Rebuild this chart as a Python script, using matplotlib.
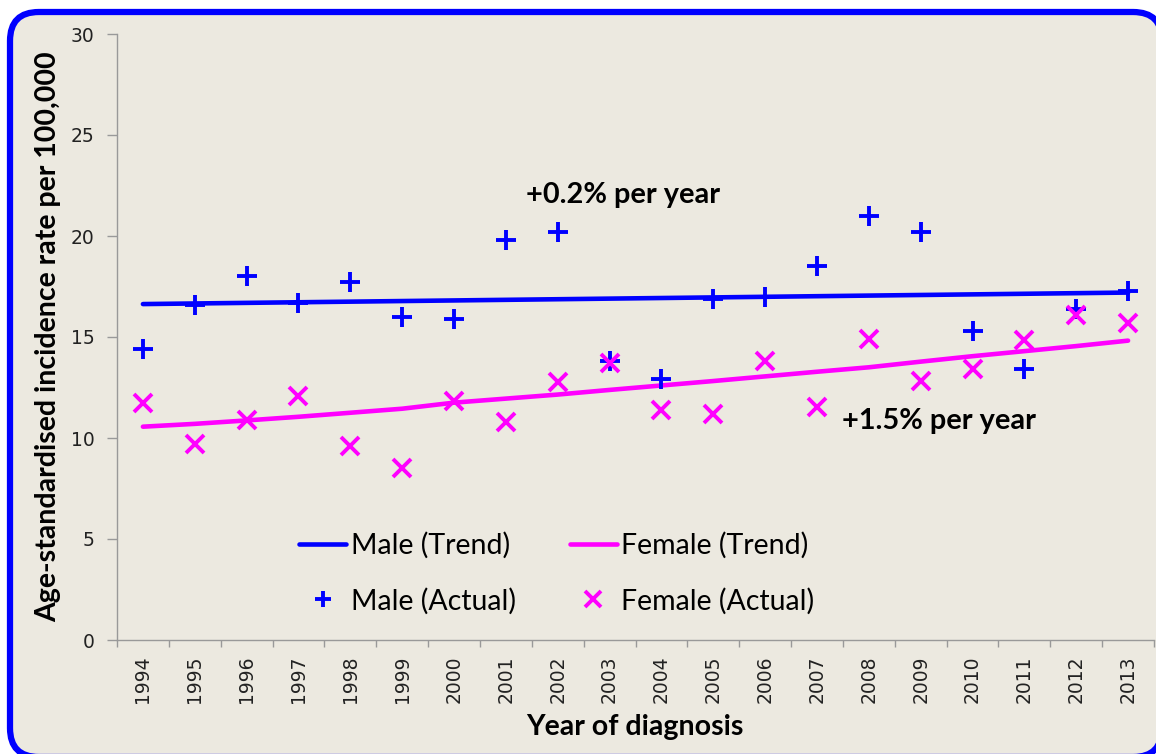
import matplotlib
matplotlib.use("Agg")
import matplotlib.pyplot as plt
from matplotlib.patches import FancyBboxPatch
from matplotlib.ticker import FixedLocator

years = [1994, 1995, 1996, 1997, 1998, 1999, 2000, 2001, 2002, 2003,
         2004, 2005, 2006, 2007, 2008, 2009, 2010, 2011, 2012, 2013]
male_actual = [14.4, 16.6, 18.0, 16.7, 17.7, 16.0, 15.9, 19.8, 20.2, 13.8,
               12.9, 16.9, 17.0, 18.5, 21.0, 20.2, 15.3, 13.4, 16.4, 17.3]
female_actual = [11.75, 9.7, 10.9, 12.1, 9.6, 8.5, 11.85, 10.8, 12.75, 13.7,
                 11.4, 11.2, 13.8, 11.55, 14.9, 12.8, 13.4, 14.85, 16.1, 15.7]
male_trend = [16.63, 16.66, 16.69, 16.72, 16.75, 16.78, 16.81, 16.84, 16.87, 16.90,
              16.93, 16.96, 16.99, 17.02, 17.05, 17.08, 17.11, 17.14, 17.17, 17.20]
female_trend = [10.56, 10.70, 10.87, 11.05, 11.25, 11.45, 11.75, 11.95, 12.15, 12.38,
                12.60, 12.82, 13.05, 13.28, 13.50, 13.78, 14.05, 14.30, 14.55, 14.82]
year_labels = [str(y) for y in years]
y_ticks = [0, 5, 10, 15, 20, 25, 30]

BLUE = "#0000FF"
MAGENTA = "#FF00FF"
BG = "#ECE9E0"

fig = plt.figure(figsize=(11.56, 7.54), dpi=100)
fig.patch.set_facecolor("white")

# rounded frame
W, H = 1156, 754
box = FancyBboxPatch((10 / W, (H - 757) / H), (1162 - 10) / W, (757 - 12) / H,
                     boxstyle="round,pad=0,rounding_size=0.025",
                     transform=fig.transFigure, facecolor=BG, edgecolor=BLUE,
                     linewidth=4.5, zorder=-10, mutation_aspect=W / H)
fig.patches.append(box)

ax = fig.add_axes([117 / W, 1 - 640 / H, (1154 - 117) / W, (640 - 34) / H])
ax.set_zorder(5)
ax.patch.set_visible(False)

l1, = ax.plot(years, male_trend, color=BLUE, lw=3.3, solid_capstyle="round", zorder=2)
l2, = ax.plot(years, female_trend, color=MAGENTA, lw=3.3, solid_capstyle="round", zorder=2)
m1, = ax.plot(years, male_actual, ls="none", marker="+", ms=14, mew=2.8, color=BLUE, zorder=3)
m2, = ax.plot(years, female_actual, ls="none", marker="x", ms=13, mew=2.8, color=MAGENTA, zorder=4)

ax.set_xlim(1993.5, 2013.5)
ax.set_ylim(0, 30)
ax.set_yticks(y_ticks)
ax.set_xticks(years)
ax.set_xticklabels(year_labels, rotation=90)
ax.xaxis.set_minor_locator(FixedLocator([y - 0.5 for y in years] + [2013.5]))
ax.tick_params(axis="x", which="major", length=0, pad=11, labelsize=13.5, labelcolor="#222222")
ax.tick_params(axis="x", which="minor", length=5, width=1, color="#999999")
ax.tick_params(axis="y", length=7, width=1, color="#999999", pad=9, labelsize=13.5, labelcolor="#222222")
for s in ["top", "right"]:
    ax.spines[s].set_visible(False)
for s in ["left", "bottom"]:
    ax.spines[s].set_color("#999999")
    ax.spines[s].set_linewidth(1)

ax.text(2001.38, 22.03, "+0.2% per year", fontsize=20.8, fontweight="bold",
        family="Lato", ha="left", va="center", color="black")
ax.text(2007.49, 10.84, "+1.5% per year", fontsize=20.8, fontweight="bold",
        family="Lato", ha="left", va="center", color="black")

leg = ax.legend([l1, m1, l2, m2],
                ["Male (Trend)", "Male (Actual)", "Female (Trend)", "Female (Actual)"],
                ncol=2, loc="center", bbox_to_anchor=(0.424, 0.11), frameon=False,
                prop={"family": "Lato", "size": 20.5}, handlelength=1.65, handletextpad=0.15,
                columnspacing=1.9, labelspacing=1.0, markerscale=0.85)

fig.text(48 / W, 1 - 337 / H, "Age-standardised incidence rate per 100,000",
         rotation=90, ha="center", va="center", fontsize=20.5, fontweight="bold", family="Lato")
fig.text(635 / W, 1 - 727 / H, "Year of diagnosis", ha="center", va="center",
         fontsize=20.5, fontweight="bold", family="Lato")

fig.savefig("out.png", dpi=100, facecolor="white")
